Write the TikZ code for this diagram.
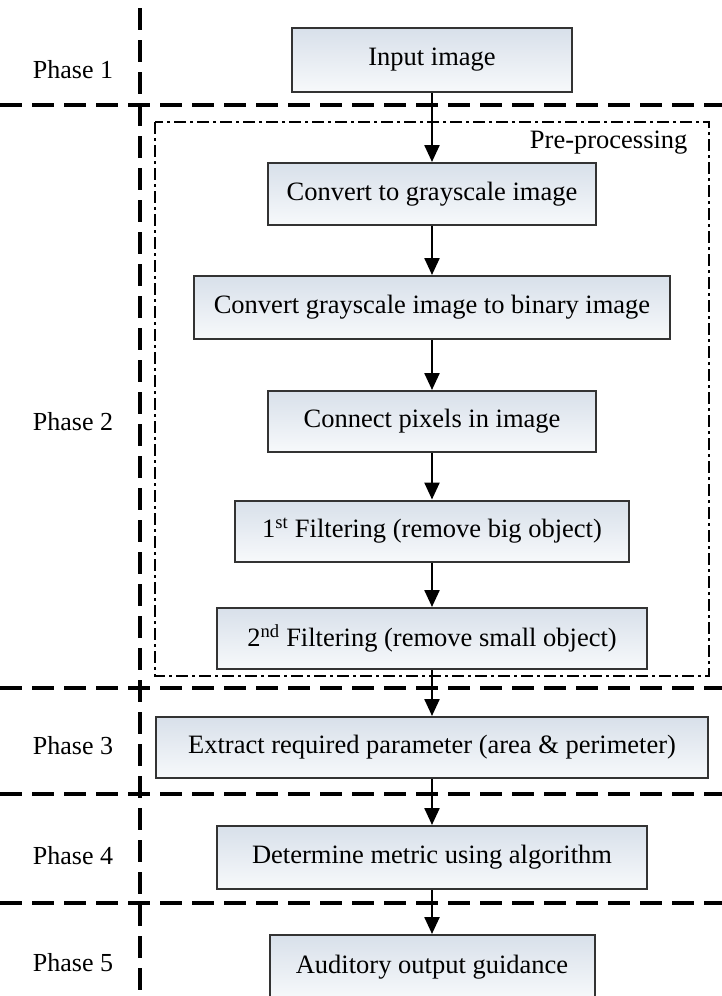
\documentclass[tikz,border=0pt]{standalone}
\usepackage{fontspec}
\setmainfont{Liberation Serif}
\usetikzlibrary{arrows.meta}
\definecolor{boxtop}{HTML}{D8E0EA}
\definecolor{boxbot}{HTML}{F7F9FB}
\definecolor{boxline}{HTML}{333333}
\tikzset{
  stepbox/.style={draw=boxline, line width=2pt, top color=boxtop, bottom color=boxbot,
    font=\fontsize{26.5}{30}\selectfont, inner sep=0pt, anchor=center},
  flow/.style={line width=2.4pt, -{Triangle[length=17pt,width=15pt]}},
  phaseline/.style={line width=4pt, dash pattern=on 22pt off 10pt},
  prebox/.style={line width=2.6pt, dash pattern=on 12pt off 4pt on 3pt off 4pt},
  phaselabel/.style={font=\fontsize{26}{30}\selectfont, anchor=center},
}
\begin{document}
\begin{tikzpicture}[x=1pt, y=-1pt]
\useasboundingbox (0,0) rectangle (722,996);

% phase separators
\draw[phaseline] (140,8) -- (140,996);
\draw[phaseline] (0,105) -- (722,105);
\draw[phaseline] (0,688) -- (722,688);
\draw[phaseline] (0,794) -- (722,794);
\draw[phaseline] (0,903) -- (722,903);

% phase labels
\node[phaselabel] (p1) at (73,70) {Phase 1};
\node[phaselabel] (p2) at (73,422) {Phase 2};
\node[phaselabel] (p3) at (73,746) {Phase 3};
\node[phaselabel] (p4) at (73,856) {Phase 4};
\node[phaselabel] (p5) at (73,963) {Phase 5};

% pre-processing group
\draw[prebox] (155,122) rectangle (709,676);
\node[font=\fontsize{26.5}{30}\selectfont, anchor=east] (pre) at (691,143) {Pre-processing};

% process steps, all centred on the flow axis
\node[stepbox, minimum width=280pt, minimum height=64pt] (in)  at (432,60)    {Input image};
\node[stepbox, minimum width=328pt, minimum height=62pt] (gs)  at (432,194)   {Convert to grayscale image};
\node[stepbox, minimum width=476pt, minimum height=63pt] (bin) at (432,307.5) {Convert grayscale image to binary image};
\node[stepbox, minimum width=328pt, minimum height=61pt] (con) at (432,421.5) {Connect pixels in image};
\node[stepbox, minimum width=394pt, minimum height=61pt] (f1)  at (432,531)   {1\textsuperscript{st} Filtering (remove big object)};
\node[stepbox, minimum width=430pt, minimum height=61pt] (f2)  at (432,638.5) {2\textsuperscript{nd} Filtering (remove small object)};
\node[stepbox, minimum width=552pt, minimum height=61pt] (ex)  at (432,747.5) {Extract required parameter (area \& perimeter)};
\node[stepbox, minimum width=430pt, minimum height=63pt] (det) at (432,857.5) {Determine metric using algorithm};
\node[stepbox, minimum width=325pt, minimum height=64pt] (aud) at (432,967)   {Auditory output guidance};

% connectors
\draw[flow] (in) -- (gs);
\draw[flow] (gs) -- (bin);
\draw[flow] (bin) -- (con);
\draw[flow] (con) -- (f1);
\draw[flow] (f1) -- (f2);
\draw[flow] (f2) -- (ex);
\draw[flow] (ex) -- (det);
\draw[flow] (det) -- (aud);
\end{tikzpicture}
\end{document}
